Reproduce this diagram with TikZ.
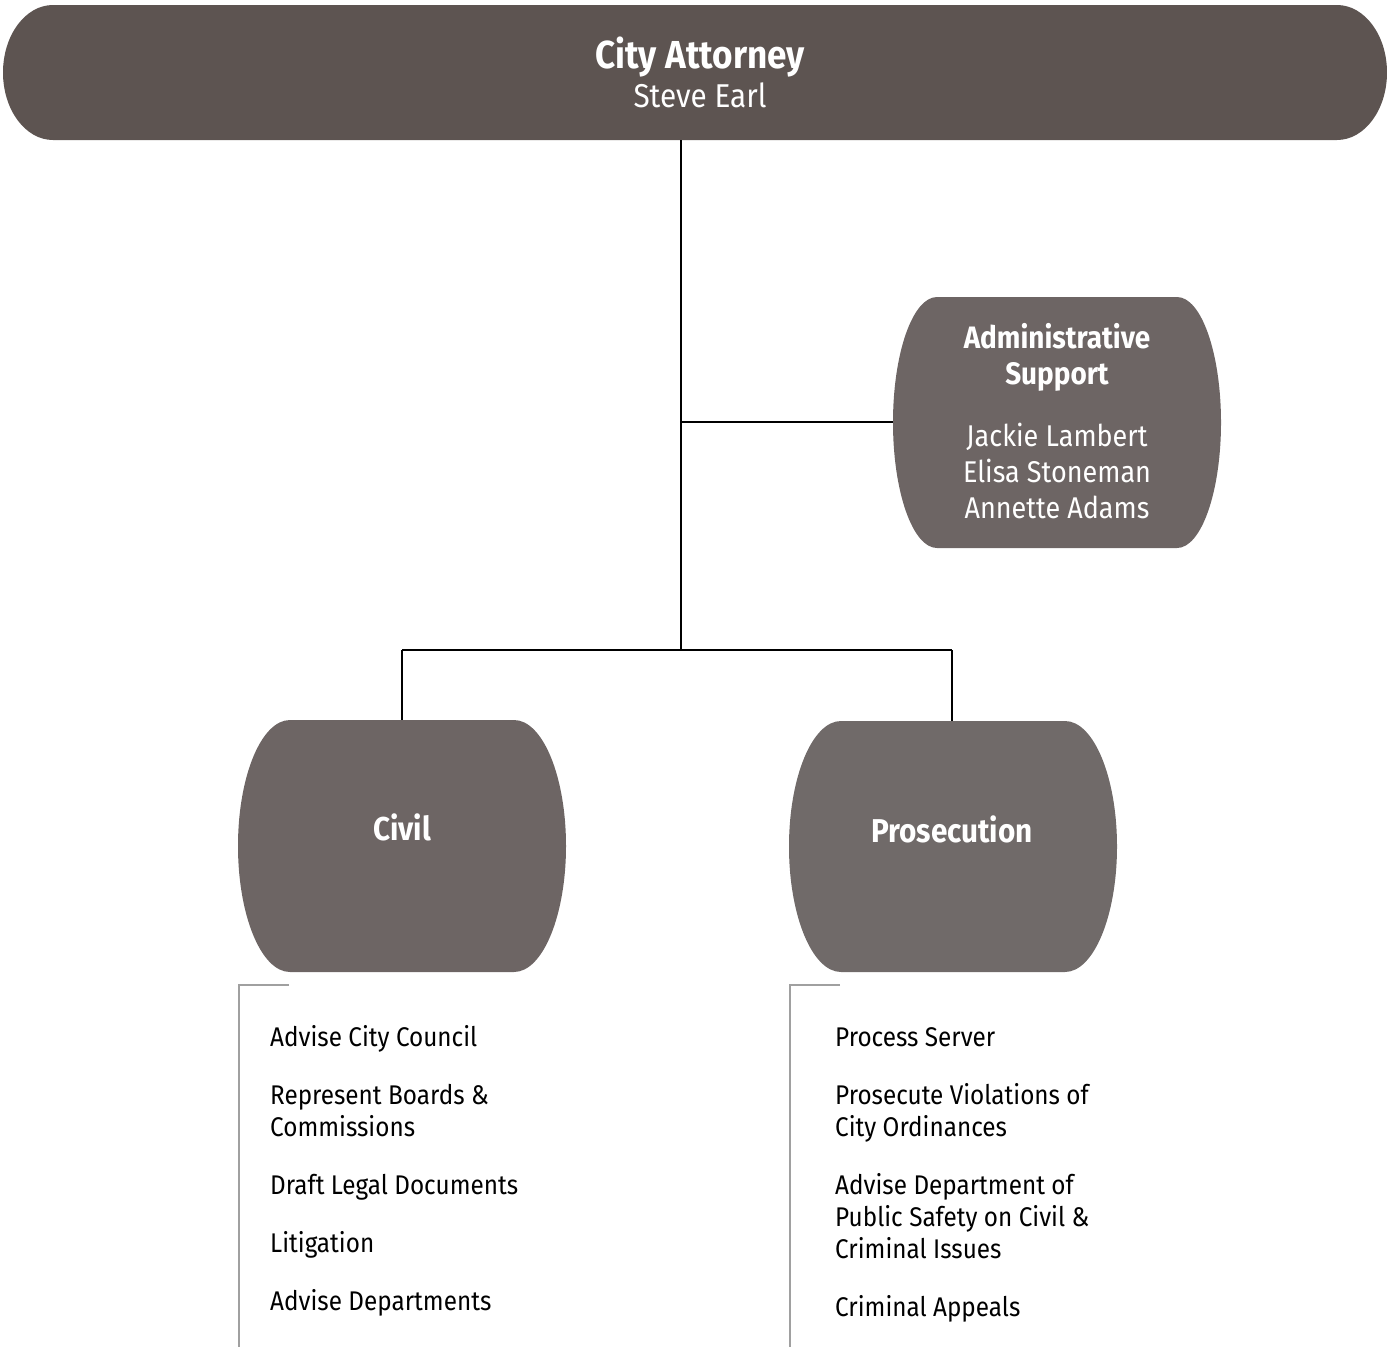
\documentclass[tikz,border=0pt]{standalone}
\usepackage{fontspec}
\setmainfont{Fira Sans}[FakeStretch=0.90]
\begin{document}
% Barrel-shaped box: flat top and bottom, half-elliptic sides.
% #1,#2 = top-left corner, #3,#4 = bottom-right corner, #5 = side bulge, #6 = fill colour
\newcommand\orgbarrel[6]{%
  \pgfmathsetmacro\bxa{#1+#5}\pgfmathsetmacro\bxb{#3-#5}%
  \pgfmathsetmacro\bxc{#1+0.4477*#5}\pgfmathsetmacro\bxd{#3-0.4477*#5}%
  \pgfmathsetmacro\bym{(#2+#4)/2}\pgfmathsetmacro\byk{0.5523*(#4-#2)/2}%
  \pgfmathsetmacro\byu{\bym-\byk}\pgfmathsetmacro\byl{\bym+\byk}%
  \fill[#6] (\bxa,#2) -- (\bxb,#2)
    .. controls (\bxd,#2) and (#3,\byu) .. (#3,\bym)
    .. controls (#3,\byl) and (\bxd,#4) .. (\bxb,#4)
    -- (\bxa,#4)
    .. controls (\bxc,#4) and (#1,\byl) .. (#1,\bym)
    .. controls (#1,\byu) and (\bxc,#2) .. cycle;}
\definecolor{headfill}{RGB}{93,84,81}
\definecolor{unitfill}{RGB}{109,101,100}
\definecolor{unitfillb}{RGB}{112,106,105}
\definecolor{brackgray}{RGB}{160,160,160}
\begin{tikzpicture}[x=1pt,y=-1pt,
  frame/.style={inner sep=0pt,outer sep=0pt,draw=none},
  conn/.style={draw=black,line width=2pt},
  bracket/.style={draw=brackgray,line width=2pt},
  whitetxt/.style={text=white,inner sep=0pt,anchor=base,align=center},
  duty/.style={text=black,inner sep=0pt,anchor=base west,align=left,
    font=\fontsize{27}{32}\selectfont}]
\useasboundingbox (0,0) rectangle (1387,1347);

% boxes
\orgbarrel{3}{5}{1387}{140}{50}{headfill}
\orgbarrel{893}{297}{1221}{548}{44}{unitfill}
\orgbarrel{238}{720}{566}{972}{52}{unitfill}
\orgbarrel{789}{721}{1117}{972}{52}{unitfillb}

\node[frame,minimum width=1384pt,minimum height=135pt] (attorney) at (695,72.5) {};
\node[frame,minimum width=328pt,minimum height=251pt] (admin) at (1057,422.5) {};
\node[frame,minimum width=328pt,minimum height=252pt] (civil) at (402,846) {};
\node[frame,minimum width=328pt,minimum height=251pt] (prosecution) at (953,846.5) {};

% box texts (multi-line nodes sit on the baseline of their last line)
\node[whitetxt,font=\bfseries\fontsize{39}{39}\selectfont] (atttitle) at (700,68) {City Attorney};
\node[whitetxt,font=\fontsize{33}{36}\selectfont] (attname) at (700,107) {Steve Earl};
\node[whitetxt,font=\bfseries\fontsize{31}{36}\selectfont] (admtitle) at (1057,384) {Administrative\\Support};
\node[whitetxt,font=\fontsize{30}{36}\selectfont] (admnames) at (1057,518) {Jackie Lambert\\Elisa Stoneman\\Annette Adams};
\node[whitetxt,font=\bfseries\fontsize{33}{36}\selectfont] (civtitle) at (402,840) {Civil};
\node[whitetxt,font=\bfseries\fontsize{33}{36}\selectfont] (prostitle) at (952,842) {Prosecution};

% connectors
\coordinate (attfoot) at (681,140);
\coordinate (admjoin) at (681,422);
\coordinate (split) at (681,650);
\coordinate (civtop) at (402,650);
\coordinate (prostop) at (952,650);
\draw[conn] (attfoot) -- (split);
\draw[conn] (admjoin) -- (admin.west |- admjoin);
\draw[conn] (civtop) -- (prostop);
\draw[conn] (civtop) -- (civil.north);
\draw[conn] (prostop) -- (prostop |- prosecution.north);

% duty lists
\coordinate (civbr) at (239,985);
\coordinate (probr) at (790,985);
\draw[bracket] (289,985) -- (civbr) -- (239,1347);
\draw[bracket] (840,985) -- (probr) -- (790,1347);

\node[duty] (c1) at (270,1046) {Advise City Council};
\node[duty] (c2) at (270,1136) {Represent Boards \&\\Commissions};
\node[duty] (c3) at (270,1194) {Draft Legal Documents};
\node[duty] (c4) at (270,1252) {Litigation};
\node[duty] (c5) at (270,1310) {Advise Departments};

\node[duty] (p1) at (835,1046) {Process Server};
\node[duty] (p2) at (835,1136) {Prosecute Violations of\\City Ordinances};
\node[duty] (p3) at (835,1258) {Advise Department of\\Public Safety on Civil \&\\Criminal Issues};
\node[duty] (p4) at (835,1316) {Criminal Appeals};
\end{tikzpicture}
\end{document}
